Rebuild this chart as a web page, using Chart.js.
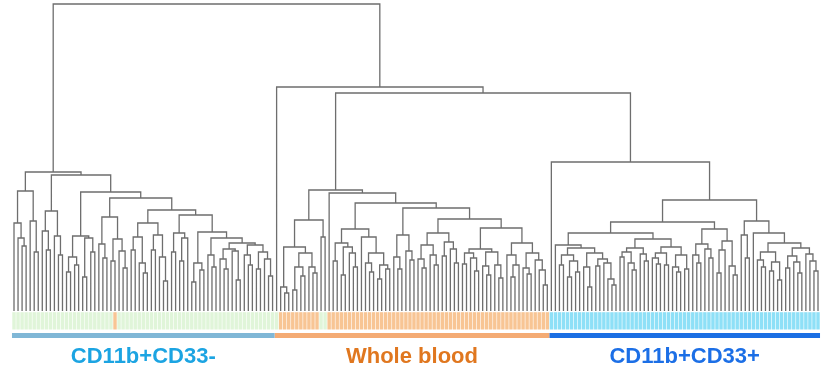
<!DOCTYPE html>
<html>
<head>
<meta charset="utf-8">
<script src="https://cdn.jsdelivr.net/npm/chart.js@4"></script>
<style>
  html, body { margin: 0; padding: 0; background: #fff; }
  #wrap { width: 825px; height: 371px; }
</style>
</head>
<body>
<div id="wrap"><canvas id="dendro"></canvas></div>
<script>
// sample groups under the tree
const groupNames = ["CD11b+CD33-", "Whole blood", "CD11b+CD33+"];

// subtrees: [merge height, left, right], 0 = a single sample
// CD11b+CD33- branch
const negA = [12.0, [8.8, 0, [7.3, 0, [6.5, 0, 0]]], [9.0, 0, [5.9, 0, 0]]];
const negB = [10.0, [8.0, 0, [6.1, 0, 0]], [7.5, 0, [5.6, 0, 0]]];
const negC = [7.5, [5.4, [3.9, 0, 0], [4.6, 0, 0]], [7.3, [3.4, 0, 0], [5.9, 0, 0]]];
const negD = [9.4, [6.7, 0, [5.3, 0, 0]], [7.2, [5.0, 0, 0], [6.0, 0, [4.3, 0, 0]]]];
const negE = [8.8, [7.4, [6.1, 0, 0], [4.8, 0, [3.8, 0, 0]]], [7.6, [6.1, 0, 0], [5.4, 0, [3.0, 0, 0]]]];
const negF = [7.8, [5.9, 0, 0], [7.3, [5.0, 0, 0], 0]];
const negG = [7.9, [4.8, [2.9, 0, 0], [4.1, 0, 0]],
  [7.3, [5.6, 0, [4.4, 0, 0]],
    [6.8, [6.2, [5.2, 0, [4.2, 0, 0]], [6.0, 0, [3.1, 0, 0]]],
      [6.6, [5.6, 0, [4.6, 0, 0]], [5.9, [4.2, 0, 0], [5.2, 0, [3.5, 0, 0]]]]]]];
const treeCD33neg = [13.9, negA, [13.6, negB, [11.9, negC, [11.3, negD, [10.1, negE, [9.6, negF, negG]]]]]];

// whole blood branch
const wbA = [9.1, [6.4, [2.4, 0, [1.8, 0, 0]], [5.8, [4.4, [2.1, 0, 0], [3.5, 0, 0]], [4.4, 0, [3.8, 0, 0]]]], [7.4, 0, 0]];
const wbB = [8.2, [6.8, [5.0, 0, 0], [6.4, [3.6, 0, 0], [5.8, 0, [4.4, 0, 0]]]], [7.4, 0, [5.8, [4.8, 0, [3.9, 0, 0]], [4.6, [3.2, 0, 0], [4.2, 0, 0]]]]];
const wbC = [7.6, [5.4, 0, [4.2, 0, 0]], [6.0, 0, [5.1, 0, 0]]];
const wbD = [7.8, [6.6, [5.2, 0, [4.3, 0, 0]], [5.6, 0, [4.6, 0, 0]]], [6.9, [5.5, 0, 0], [6.2, 0, [4.8, 0, 0]]]];
const wbE = [6.2, [5.8, [4.7, 0, 0], [5.3, 0, [4.0, 0, 0]]], [5.9, [4.5, 0, [3.6, 0, 0]], [4.6, 0, [3.3, 0, 0]]]];
const wbF = [6.8, [5.6, 0, [4.6, [3.4, 0, 0], 0]], [5.8, [4.3, 0, [3.7, 0, 0]], [5.1, 0, [4.1, 0, [2.6, 0, 0]]]]];
const treeWholeBlood = [12.1, wbA, [11.8, 0, [10.8, wbB, [10.3, wbC, [9.2, wbD, [8.3, wbE, wbF]]]]]];

// CD11b+CD33+ branch
const posA = [6.6, 0, [6.3, [5.6, [4.6, 0, 0], [5.0, [3.4, 0, 0], [3.9, 0, 0]]], [5.8, [4.4, 0, [2.4, 0, 0]], [5.2, [4.5, 0, 0], [4.8, 0, [3.2, 0, [2.6, 0, 0]]]]]]];
const posB = [7.2, [6.3, [5.9, [5.4, 0, 0], [4.8, 0, [4.1, 0, 0]]], [5.7, 0, [5.0, 0, 0]]], [6.4, [5.8, [5.3, 0, [4.7, 0, 0]], [4.6, 0, 0]], [5.6, [4.4, 0, [3.9, 0, 0]], [4.2, 0, 0]]]];
const posC = [8.2, [6.7, [5.6, 0, [4.8, 0, 0]], [6.2, 0, [5.3, 0, 0]]], [7.0, [6.1, [3.8, 0, 0], 0], [4.5, 0, [3.6, 0, 0]]]];
const posD = [7.6, 0, [5.3, 0, 0]];
const posE = [7.8, 0, [6.8, [5.9, [5.1, 0, [4.4, 0, 0]], [4.9, [4.0, 0, 0], [3.1, 0, 0]]], [6.3, [5.5, [4.3, 0, 0], [4.9, 0, [3.8, 0, 0]]], [5.7, 0, [5.0, 0, [4.0, 0, 0]]]]]];
const treeCD33pos = [11.1, [8.9, [7.8, posA, posB], posC], [9.0, posD, posE]];

// top of the tree: two outlying samples join the whole blood and CD33+ branches
const rootHeights = [30.7, 22.4, 21.8, 14.9];
const fullTree = [rootHeights[0], treeCD33neg,
  [rootHeights[1], 0, [rootHeights[2], treeWholeBlood, [rootHeights[3], 0, treeCD33pos]]]];

// sample type of each leaf, as runs of [type, count] (0 CD33-, 1 whole blood, 2 CD33+)
const sampleRuns = [[0, 25], [1, 1], [0, 40], [1, 10], [0, 2], [1, 55], [2, 67]];

const countLeaves = n => n === 0 ? 1 : countLeaves(n[1]) + countLeaves(n[2]);
const groupSizes = [countLeaves(treeCD33neg), 1 + countLeaves(treeWholeBlood), 1 + countLeaves(treeCD33pos)];

const stripColors = ["#e0f5d9", "#f8c594", "#8ee0f7"];
const barColors = ["#80b7d6", "#f4ab74", "#1b6fe3"];
const labelColors = ["#1ca4e2", "#e0771f", "#1c6fe6"];

// walk the tree: leaves in order, nodes centred over their children
let nextLeaf = 0;
const links = [];
function place(node) {
  if (node === 0) return { x: nextLeaf++, h: 0 };
  const l = place(node[1]), r = place(node[2]);
  links.push({ x: l.x, y: l.h }, { x: l.x, y: node[0] }, { x: r.x, y: node[0] }, { x: r.x, y: r.h }, { x: l.x, y: null });
  return { x: (l.x + r.x) / 2, h: node[0] };
}
place(fullTree);
const N = nextLeaf;

const leafType = [];
sampleRuns.forEach(([t, c]) => { for (let i = 0; i < c; i++) leafType.push(t); });

const groupStart = [0, groupSizes[0], groupSizes[0] + groupSizes[1]];
const groupCenters = groupStart.map((s, i) => s + (groupSizes[i] - 1) / 2);

const datasets = [{
  type: "line",
  data: links,
  borderColor: "#6e6e6e",
  borderWidth: 1.3,
  pointRadius: 0,
  spanGaps: false,
  clip: false,
  order: 0
}, {
  type: "bar",
  data: leafType.map((t, i) => ({ x: i, y: [-0.12, -1.85] })),
  backgroundColor: leafType.map(t => stripColors[t]),
  barPercentage: 0.85,
  categoryPercentage: 1,
  order: 2
}];
groupStart.forEach((s, i) => {
  datasets.push({
    type: "line",
    data: [{ x: s - 0.5, y: -2.45 }, { x: s + groupSizes[i] - 0.5, y: -2.45 }],
    borderColor: barColors[i],
    borderWidth: 5,
    borderCapStyle: "butt",
    pointRadius: 0,
    order: 1
  });
});

const spacing = (N - 1) / 804;
new Chart(document.getElementById("dendro"), {
  type: "bar",
  data: { datasets: datasets },
  options: {
    responsive: true,
    maintainAspectRatio: false,
    animation: false,
    layout: { padding: 0 },
    plugins: { legend: { display: false }, tooltip: { enabled: false } },
    scales: {
      x: {
        type: "linear",
        offset: false,
        min: -14 * spacing,
        max: (N - 1) + 7 * spacing,
        grid: { display: false, drawTicks: false },
        border: { display: false },
        afterBuildTicks: axis => { axis.ticks = groupCenters.map(v => ({ value: v })); },
        afterFit: axis => { axis.height = 31; },
        ticks: {
          autoSkip: false,
          maxRotation: 0,
          padding: 4,
          callback: (v, i) => groupNames[i],
          color: ctx => labelColors[ctx.index],
          font: { family: "'Liberation Sans', Arial, sans-serif", size: 22, weight: "bold" }
        }
      },
      y: {
        display: false,
        min: -2.9,
        max: 31.1
      }
    }
  }
});
</script>
</body>
</html>
